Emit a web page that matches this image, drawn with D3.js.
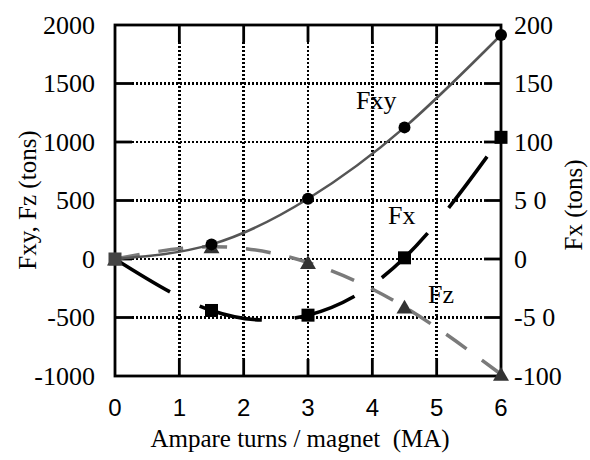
<!DOCTYPE html>
<html>
<head>
<meta charset="utf-8">
<script src="https://cdn.jsdelivr.net/npm/d3@7"></script>
<style>
  body { margin: 0; background: #fff; }
  text { font-family: "Liberation Serif", "Times New Roman", serif; fill: #000; }
  .sans { font-family: "Liberation Sans", Arial, sans-serif; }
</style>
</head>
<body>
<div id="chart"></div>
<script>
const width = 590,
height = 460,
margin = { top: 25, right: 89, bottom: 84, left: 115 };

// data
const amps = [0, 1.5, 3, 4.5, 6];
const fxy = [0, 125, 515, 1125, 1915];   // left axis
const fz = [0, 105, -30, -410, -985];    // left axis
const fx = [0, -44, -48, 1, 104];        // right axis

const xTicks = [0, 1, 2, 3, 4, 5, 6];
const leftTicks = [2000, 1500, 1000, 500, 0, -500, -1000];
const rightTicks = [200, 150, 100, 50, 0, -50, -100];
const rightTickLabels = ['200', '150', '100', '5 0', '0', '-5 0', '-100'];

const svg = d3.select('#chart').
append('svg').
attr('width', width).
attr('height', height);

const x = d3.scaleLinear().domain([0, 6]).range([margin.left, width - margin.right]);
const yL = d3.scaleLinear().domain([-1000, 2000]).range([height - margin.bottom, margin.top]);
const yR = d3.scaleLinear().domain([-100, 200]).range([height - margin.bottom, margin.top]);

const x0 = x(0), x1 = x(6), y0 = yL(-1000), y1 = yL(2000);
const tickLen = 17;

// dotted grid
const grid = svg.append('g').
attr('stroke', '#000').
attr('stroke-width', 2.5).
attr('stroke-dasharray', '2,2').
attr('shape-rendering', 'crispEdges');

grid.selectAll('.vg').
data(xTicks.slice(1, -1)).
enter().
append('line').
attr('x1', d => x(d)).attr('x2', d => x(d)).
attr('y1', y1 + tickLen).attr('y2', y0 - tickLen);

grid.selectAll('.hg').
data(leftTicks.slice(1, -1)).
enter().
append('line').
attr('y1', d => yL(d)).attr('y2', d => yL(d)).
attr('x1', x0 + tickLen).attr('x2', x1 - tickLen);

// frame and inward ticks
const frame = svg.append('g').attr('stroke', '#000').attr('stroke-width', 2.8).attr('fill', 'none');
frame.append('rect').attr('x', x0).attr('y', y1).attr('width', x1 - x0).attr('height', y0 - y1);

xTicks.slice(1, -1).forEach(t => {
  frame.append('line').attr('x1', x(t)).attr('x2', x(t)).attr('y1', y1).attr('y2', y1 + tickLen);
  frame.append('line').attr('x1', x(t)).attr('x2', x(t)).attr('y1', y0).attr('y2', y0 - tickLen);
});
leftTicks.slice(1, -1).forEach(t => {
  frame.append('line').attr('y1', yL(t)).attr('y2', yL(t)).attr('x1', x0).attr('x2', x0 + tickLen);
  frame.append('line').attr('y1', yL(t)).attr('y2', yL(t)).attr('x1', x1).attr('x2', x1 - tickLen);
});

// tick labels
svg.selectAll('.lt').
data(leftTicks).
enter().
append('text').
attr('x', x0 - 20).
attr('y', d => yL(d)).
attr('dy', '0.34em').
attr('text-anchor', 'end').
style('font-size', '26px').
text(d => d);

svg.selectAll('.rt').
data(rightTicks).
enter().
append('text').
attr('x', x1 + 13).
attr('y', d => yR(d)).
attr('dy', '0.34em').
attr('text-anchor', 'start').
style('font-size', '26px').
text((d, i) => rightTickLabels[i]);

svg.selectAll('.bt').
data(xTicks).
enter().
append('text').
attr('class', 'sans').
attr('x', d => x(d)).
attr('y', y0 + 40).
attr('text-anchor', 'middle').
style('font-size', '24px').
text(d => d);

// axis titles
svg.append('text').
attr('x', 300).
attr('y', 447).
attr('text-anchor', 'middle').
style('font-size', '25px').
style('white-space', 'pre').
text('Ampare turns / magnet  (MA)');

svg.append('text').
attr('transform', 'translate(36,200) rotate(-90)').
attr('text-anchor', 'middle').
style('font-size', '25px').
text('Fxy, Fz (tons)');

svg.append('text').
attr('transform', 'translate(582,205) rotate(-90)').
attr('text-anchor', 'middle').
style('font-size', '25px').
text('Fx (tons)');

// series
const lineL = d3.line().x((d, i) => x(amps[i])).y(d => yL(d)).curve(d3.curveNatural);
const lineR = d3.line().x((d, i) => x(amps[i])).y(d => yR(d)).curve(d3.curveNatural);

svg.append('path').
attr('d', lineL(fz)).
attr('fill', 'none').
attr('stroke', '#7a7a7a').
attr('stroke-width', 3.5).
attr('stroke-dasharray', '25,19');

svg.append('path').
attr('d', lineR(fx)).
attr('fill', 'none').
attr('stroke', '#000').
attr('stroke-width', 3.6).
attr('stroke-dasharray', '64,33');

svg.append('path').
attr('d', lineL(fxy)).
attr('fill', 'none').
attr('stroke', '#555').
attr('stroke-width', 2.6);

// markers
const tri = d3.symbol().type(d3.symbolTriangle).size(110);
svg.selectAll('.tri').
data(fz).
enter().
append('path').
attr('d', tri).
attr('transform', (d, i) => `translate(${x(amps[i])},${yL(d) + 2})`).
attr('fill', '#333');

svg.selectAll('.sq').
data(fx).
enter().
append('rect').
attr('x', (d, i) => x(amps[i]) - 6.5).
attr('y', d => yR(d) - 6.5).
attr('width', 13).
attr('height', 13).
attr('fill', (d, i) => i === 0 ? '#444' : '#000');

svg.selectAll('.dot').
data(fxy).
enter().
append('circle').
attr('cx', (d, i) => x(amps[i])).
attr('cy', d => yL(d)).
attr('r', 6).
attr('fill', (d, i) => i === 0 ? '#444' : '#000');

// series labels
const labels = [['Fxy', 356, 109], ['Fx', 388, 224], ['Fz', 428, 303]];
svg.selectAll('.lab').
data(labels).
enter().
append('text').
attr('x', d => d[1]).
attr('y', d => d[2]).
style('font-size', '26px').
text(d => d[0]);
</script>
</body>
</html>
